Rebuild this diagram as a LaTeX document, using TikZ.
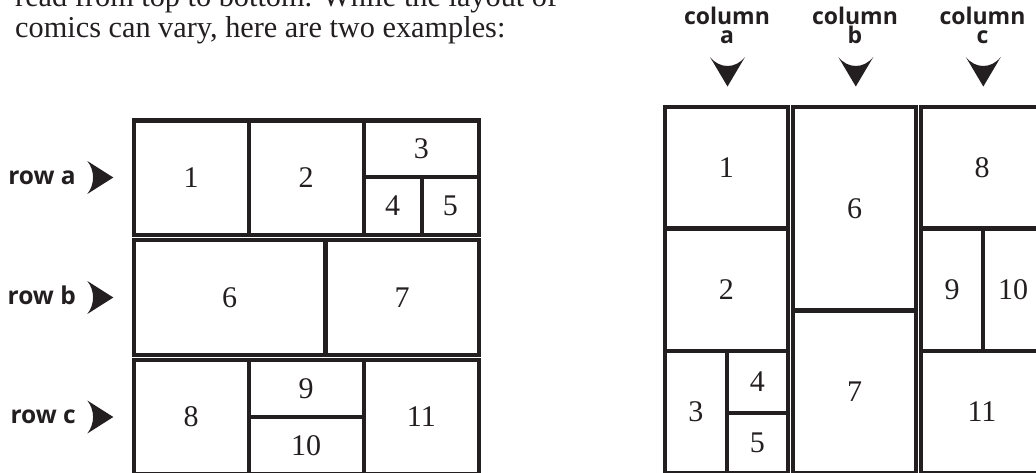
\documentclass[tikz,border=0pt]{standalone}
\usepackage{fontspec}
\setmainfont{Liberation Serif}
\newfontfamily\labfont{Open Sans}
\definecolor{ink}{RGB}{35,31,32}
\begin{document}
\begin{tikzpicture}[x=1pt,y=-1pt,
  panel/.style={draw=ink,line width=4.3pt,line join=miter},
  divider/.style={draw=ink,line width=4.3pt},
  num/.style={inner sep=0pt,text=ink,font=\fontsize{30}{36}\selectfont},
  lab/.style={inner sep=0pt,text=ink,font=\labfont\bfseries\fontsize{24.5}{26}\selectfont},
  collab/.style={inner sep=0pt,text=ink,anchor=base,font=\labfont\bfseries\fontsize{23}{26}\selectfont},
  body/.style={inner sep=0pt,text=ink,font=\fontsize{30.3}{36}\selectfont},
  tip/.style={fill=ink,draw=none}]
\useasboundingbox (0,0) rectangle (1036,472);
\clip (0,0) rectangle (1036,472);
\fill[white] (0,0) rectangle (1036,472);

% top text
\node[body,anchor=base west] (line1) at (15,6.7) {read from top to bottom. While the layout of};
\node[body,anchor=base west] (line2) at (15,37.3) {comics can vary, here are two examples:};

% ---------- left diagram: rows ----------
\draw[panel] (133.7,120.5) rectangle (478.8,234.8);
\draw[divider] (248.7,120.5) -- (248.7,234.8);
\draw[divider] (363.8,120.5) -- (363.8,234.8);
\draw[divider] (363.8,177.2) -- (478.8,177.2);
\draw[divider] (421.7,177.2) -- (421.7,234.8);

\draw[panel] (133.7,239.7) rectangle (478.8,354.8);
\draw[divider] (325.5,239.7) -- (325.5,354.8);

\draw[panel] (133.7,359.7) rectangle (478.8,474);
\draw[divider] (248.7,359.7) -- (248.7,474);
\draw[divider] (363.8,359.7) -- (363.8,474);
\draw[divider] (248.7,417.2) -- (363.8,417.2);

\node[num] (L1) at (191.2,177.7) {1};
\node[num] (L2) at (306.2,177.7) {2};
\node[num] (L3) at (421.3,148.9) {3};
\node[num] (L4) at (392.7,206.1) {4};
\node[num] (L5) at (450.3,206.1) {5};
\node[num] (L6) at (229.6,297.3) {6};
\node[num] (L7) at (402.2,297.3) {7};
\node[num] (L8) at (191.2,416.7) {8};
\node[num] (L9) at (306.2,388.4) {9};
\node[num] (L10) at (306.2,445.6) {10};
\node[num] (L11) at (421.3,416.7) {11};

% row labels and arrows
\node[lab,anchor=base east] (rowa) at (76,184) {row a};
\node[lab,anchor=base east] (rowb) at (76,304) {row b};
\node[lab,anchor=base east] (rowc) at (76,423.5) {row c};
\foreach \yc in {177.5,297.5,417}{
  \fill[tip] (113.3,\yc) -- (87.3,\yc-16.5) .. controls (95,\yc-7) and (95,\yc+7) .. (87.3,\yc+16.5) -- cycle;
}

% ---------- right diagram: columns ----------
\draw[panel] (665,106.7) rectangle (787.8,473.5);
\draw[divider] (665,228.5) -- (787.8,228.5);
\draw[divider] (665,350.7) -- (787.8,350.7);
\draw[divider] (726.8,350.7) -- (726.8,473.5);
\draw[divider] (726.8,412.7) -- (787.8,412.7);

\draw[panel] (793,106.7) rectangle (916,473.5);
\draw[divider] (793,310.5) -- (916,310.5);

\draw[panel] (921,106.7) rectangle (1043,473.5);
\draw[divider] (921,228.5) -- (1043,228.5);
\draw[divider] (921,350.7) -- (1043,350.7);
\draw[divider] (983.2,228.5) -- (983.2,350.7);

\node[num] (R1) at (726.4,167.6) {1};
\node[num] (R2) at (726.4,289.6) {2};
\node[num] (R3) at (695.9,412) {3};
\node[num] (R4) at (757.3,381.7) {4};
\node[num] (R5) at (757.3,443) {5};
\node[num] (R6) at (854.5,208.6) {6};
\node[num] (R7) at (854.5,392) {7};
\node[num] (R8) at (982,167.6) {8};
\node[num] (R9) at (952,289.6) {9};
\node[num] (R10) at (1013,289.6) {10};
\node[num] (R11) at (982,412) {11};

% column labels and arrows
\node[collab] (cola) at (727,24) {column};
\node[collab] (colaL) at (727,43.5) {a};
\node[collab] (colb) at (855,24) {column};
\node[collab] (colbL) at (855,43.5) {b};
\node[collab] (colc) at (982.5,24) {column};
\node[collab] (colcL) at (982.5,43.5) {c};
\foreach \xc in {727.5,855.8,983.3}{
  \fill[tip] (\xc-17.5,57) .. controls (\xc-8,69) and (\xc+8,69) .. (\xc+17.5,57) -- (\xc,86.5) -- cycle;
}
\end{tikzpicture}
\end{document}
